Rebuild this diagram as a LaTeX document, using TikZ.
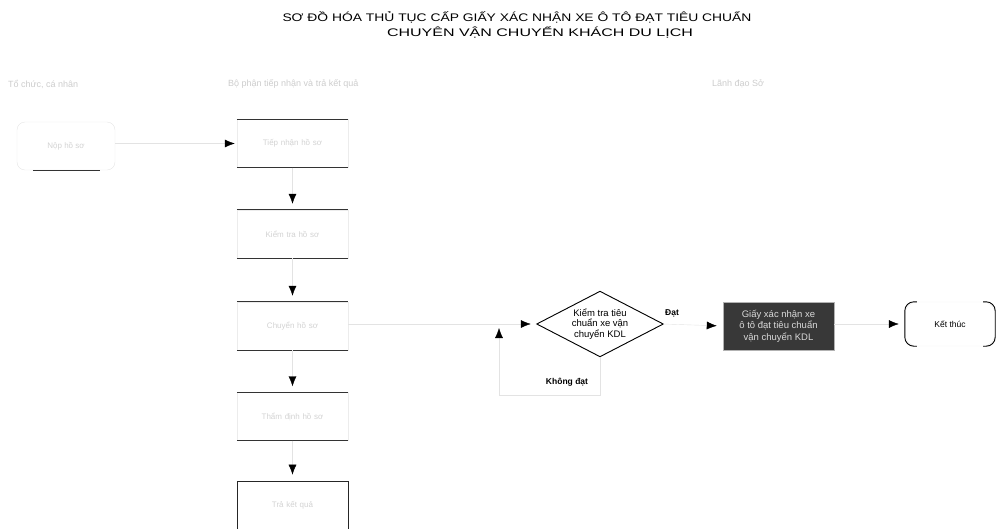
\documentclass[tikz,border=0pt]{standalone}
\usepackage{fontspec}
\setmainfont{Liberation Sans}
\usetikzlibrary{shapes.geometric,arrows.meta}
\begin{document}
\begin{tikzpicture}[x=1pt,y=-1pt,
  conn/.style={draw=gray!22, line width=0.4pt, -{Latex[length=10pt,width=8pt,color=black]}, shorten >=6pt},
  colbox/.style={draw=gray!15, minimum width=111pt, minimum height=48pt, inner sep=2pt,
    text width=100pt, align=center, font=\fontsize{8}{9.5}\selectfont, text=gray!35},
  edge/.style={line width=1.2pt, draw=black!80},
  hdr/.style={anchor=west, inner sep=0pt, font=\fontsize{9}{10}\selectfont, text=gray!40},
  lbl/.style={inner sep=0pt, font=\fontsize{8.5}{10}\selectfont\bfseries},
  titletext/.style={inner sep=0pt, font=\fontsize{11}{13}\selectfont}]
\useasboundingbox (0,0) rectangle (996,528);

% title
\node[titletext] (t1) at (517,17) {\resizebox{469pt}{\height}{SƠ ĐỒ HÓA THỦ TỤC CẤP GIẤY XÁC NHẬN XE Ô TÔ ĐẠT TIÊU CHUẨN}};
\node[titletext] (t2) at (540,32) {\resizebox{306pt}{\height}{CHUYÊN VẬN CHUYỂN KHÁCH DU LỊCH}};

% column headers
\node[hdr] (h1) at (8,84) {Tổ chức, cá nhân};
\node[hdr] (h2) at (228,84) {Bộ phận tiếp nhận và trả kết quả};
\node[hdr] (h3) at (712,84) {Lãnh đạo Sở};

% left start box
\node[draw=gray!20, rounded corners=8pt, minimum width=98pt, minimum height=48pt,
  font=\fontsize{8}{9.5}\selectfont, text=gray!35] (s) at (66,146) {Nộp hồ sơ};
\draw[edge] ([xshift=16pt]s.south west) -- ([xshift=-15pt]s.south east);

% column boxes
\node[colbox] (b1) at (292.5,143.5) {Tiếp nhận hồ sơ};
\node[colbox] (b2) at (292.5,234) {Kiểm tra hồ sơ};
\node[colbox] (b3) at (292.5,326) {Chuyển hồ sơ};
\node[colbox] (b4) at (292.5,416.5) {Thẩm định hồ sơ};
\node[colbox, draw=black!85, line width=0.8pt] (b5) at (292.5,505) {Trả kết quả};
\foreach \b in {b1,b2,b3,b4}{
  \draw[edge] (\b.north west) -- (\b.north east);
  \draw[edge] (\b.south west) -- (\b.south east);
}

% decision
\node[draw=gray!30, shape=diamond, aspect=1.94, minimum width=126pt, minimum height=65pt,
  inner sep=0pt, align=center, font=\fontsize{9.5}{10.5}\selectfont] (d) at (600,324)
  {Kiểm tra tiêu\\chuẩn xe vận\\chuyển KDL};
\draw[line width=0.9pt] (d.west) -- (d.north) -- (d.east) -- (d.south) -- cycle;

% issue box
\node[fill=black!78, draw=gray!60, minimum width=111pt, minimum height=48pt, inner sep=0pt,
  align=center, text=white!85!black, font=\fontsize{9.5}{11.5}\selectfont] (g) at (778.5,326)
  {Giấy xác nhận xe\\ô tô đạt tiêu chuẩn\\vận chuyển KDL};

% end
\node[draw=gray!15, rounded corners=12pt, minimum width=90pt, minimum height=44pt,
  font=\fontsize{8.5}{10}\selectfont] (e) at (950,324) {Kết thúc};
\draw[line width=0.9pt, rounded corners=9pt] ([xshift=12pt]e.north west) -- (e.north west) -- (e.south west) -- ([xshift=12pt]e.south west);
\draw[line width=0.9pt, rounded corners=9pt] ([xshift=-12pt]e.north east) -- (e.north east) -- (e.south east) -- ([xshift=-12pt]e.south east);

% connectors
\draw[conn, shorten >=2pt] (s.east |- b1.west) -- (b1.west);
\draw[conn] (b1.south) -- (b2.north);
\draw[conn] (b2.south) -- (b3.north);
\draw[conn] (b3.south) -- (b4.north);
\draw[conn] (b4.south) -- (b5.north);
\draw[conn] (b3.east |- d.west) -- (d.west);
\draw[conn] (d.east) -- (g.west);
\draw[conn] (g.east |- e.west) -- (e.west);
\coordinate (kd) at (499,395);
\coordinate (kj) at (499,324);
\draw[conn, shorten >=4pt] (d.south) |- (kd) -- (kj);

% labels
\node[lbl] (ld) at (672,313) {Đạt};
\node[lbl] (lk) at (567,382) {Không đạt};
\end{tikzpicture}
\end{document}
